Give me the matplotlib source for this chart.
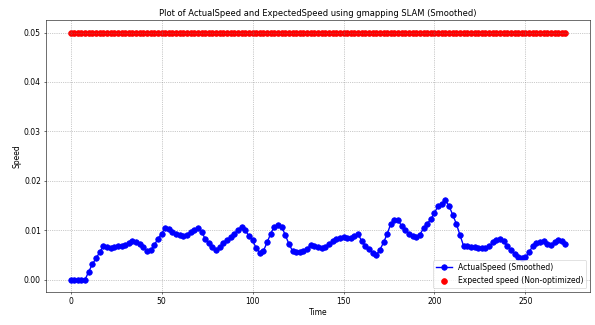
import matplotlib
matplotlib.use("Agg")
import matplotlib.pyplot as plt

# Time index (one sample every 2 units)
time = list(range(0, 273, 2))

actual_speed_smoothed = [
    0.0, 0.0, 0.0, 0.0, 0.0, 0.0016, 0.0031, 0.0043, 0.0055, 0.0068,
    0.0065, 0.0063, 0.0065, 0.0067, 0.0068, 0.0070, 0.0073, 0.0078, 0.0075, 0.0072,
    0.0066, 0.0058, 0.0059, 0.0070, 0.0082, 0.0093, 0.0104, 0.0102, 0.0097, 0.0093,
    0.0090, 0.0088, 0.0091, 0.0097, 0.0100, 0.0104, 0.0097, 0.0082, 0.0073, 0.0065,
    0.0060, 0.0066, 0.0073, 0.0080, 0.0086, 0.0093, 0.0100, 0.0106, 0.0100, 0.0088,
    0.0079, 0.0064, 0.0054, 0.0058, 0.0075, 0.0093, 0.0107, 0.0110, 0.0107, 0.0090,
    0.0072, 0.0058, 0.0056, 0.0056, 0.0057, 0.0062, 0.0070, 0.0068, 0.0066, 0.0064,
    0.0066, 0.0072, 0.0077, 0.0082, 0.0085, 0.0086, 0.0084, 0.0085, 0.0088, 0.0092,
    0.0078, 0.0068, 0.0062, 0.0054, 0.0050, 0.0060, 0.0075, 0.0092, 0.0113, 0.0120,
    0.0120, 0.0108, 0.0100, 0.0093, 0.0088, 0.0086, 0.0091, 0.0104, 0.0113, 0.0122,
    0.0135, 0.0149, 0.0153, 0.0160, 0.0149, 0.0131, 0.0113, 0.0090, 0.0068, 0.0067,
    0.0065, 0.0065, 0.0064, 0.0064, 0.0064, 0.0067, 0.0075, 0.0080, 0.0082, 0.0077,
    0.0068, 0.0060, 0.0052, 0.0046, 0.0044, 0.0045, 0.0055, 0.0068, 0.0073, 0.0075,
    0.0078, 0.0072, 0.0070, 0.0075, 0.0080, 0.0077, 0.0072,
]

expected_speed = [0.05] * len(time)

fig, ax = plt.subplots(figsize=(11.9, 6.5), dpi=50)
ax.plot(time, actual_speed_smoothed, marker="o", markersize=8, linewidth=2,
        color="blue", linestyle="-", label="ActualSpeed (Smoothed)")
ax.scatter(time, expected_speed, s=70, color="red",
           label="Expected speed (Non-optimized)")

ax.set_xlabel("Time", fontsize=11)
ax.set_ylabel("Speed", fontsize=11)
ax.set_title("Plot of ActualSpeed and ExpectedSpeed using gmapping SLAM (Smoothed)",
             fontsize=12)
ax.tick_params(labelsize=11)
ax.grid(True, linestyle=":", color="gray", linewidth=1.0, alpha=0.8)
ax.legend(loc="lower right", fontsize=11)
fig.subplots_adjust(left=0.077, right=0.992, top=0.938, bottom=0.102)
fig.savefig("out.png", dpi=50)
